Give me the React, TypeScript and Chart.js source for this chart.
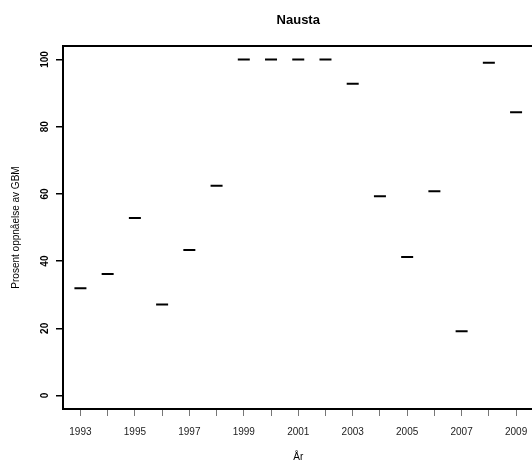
import React, { useEffect, useRef } from 'react';
import { Chart, registerables } from 'chart.js';

Chart.register(...registerables);

const chartTitle = 'Nausta';
const xAxisTitle = 'År';
const yAxisTitle = 'Prosent oppnåelse av GBM';

const years = [1993, 1994, 1995, 1996, 1997, 1998, 1999, 2000, 2001, 2002, 2003, 2004, 2005, 2006, 2007, 2008, 2009];
const values = [31.9, 36.2, 52.8, 27.1, 43.3, 62.4, 100, 100, 100, 100, 92.8, 59.3, 41.2, 60.8, 19.1, 99.0, 84.3];
const xTickLabels = ['1993', '1995', '1997', '1999', '2001', '2003', '2005', '2007', '2009'];
const yTickValues = [0, 20, 40, 60, 80, 100];

const FONT = "'Liberation Sans', Arial, Helvetica, sans-serif";

const boxPlugin = {
  id: 'rbox',
  afterDraw(chart: any) {
    const { ctx, chartArea } = chart;
    const { left, top, right, bottom } = chartArea;
    ctx.save();
    ctx.strokeStyle = '#000';
    ctx.lineWidth = 2;
    ctx.strokeRect(left, top, right - left, bottom - top);
    ctx.restore();
  },
};

export default function App() {
  const canvasRef = useRef<HTMLCanvasElement | null>(null);

  useEffect(() => {
    const canvas = canvasRef.current;
    if (!canvas) return;
    document.body.style.margin = '0';
    const chart = new Chart(canvas, {
      type: 'scatter',
      data: {
        datasets: [
          {
            data: years.map((x, i) => ({ x, y: values[i] })),
            pointStyle: 'line',
            pointRadius: 6,
            pointHoverRadius: 6,
            pointBorderWidth: 2,
            pointBorderColor: '#000',
            pointBackgroundColor: '#000',
            showLine: false,
          } as any,
        ],
      },
      options: {
        animation: false,
        responsive: false,
        devicePixelRatio: 1,
        events: [],
        layout: { padding: { left: 0, right: 26.5, top: 0, bottom: 0 } },
        plugins: {
          legend: { display: false },
          tooltip: { enabled: false },
          title: {
            display: true,
            text: chartTitle,
            fullSize: false,
            color: '#000',
            font: { family: FONT, size: 13, weight: 'bold', lineHeight: 1.2 },
            padding: { top: 12.2, bottom: 18.2 },
          },
        },
        scales: {
          x: {
            type: 'linear',
            min: 1992.36,
            max: 2009.64,
            border: { display: false },
            grid: {
              drawOnChartArea: false,
              drawTicks: true,
              tickLength: 7,
              tickColor: '#777',
              lineWidth: 1,
            },
            ticks: {
              stepSize: 1,
              includeBounds: false,
              autoSkip: false,
              maxRotation: 0,
              minRotation: 0,
              padding: 10,
              color: '#222',
              font: { family: FONT, size: 10, lineHeight: 1.2 },
              callback: (v: any) => (xTickLabels.includes(String(v)) ? String(v) : ''),
            },
            title: {
              display: true,
              text: xAxisTitle,
              color: '#000',
              font: { family: FONT, size: 10, lineHeight: 1 },
              padding: { top: 0, bottom: 0 },
            },
            afterFit: (s: any) => {
              s.height = 53;
            },
          },
          y: {
            type: 'linear',
            min: -4,
            max: 104,
            border: { display: false },
            grid: {
              drawOnChartArea: false,
              drawTicks: true,
              tickLength: 7,
              tickColor: '#000',
              lineWidth: 1.5,
            },
            ticks: {
              stepSize: 20,
              includeBounds: false,
              minRotation: 90,
              maxRotation: 90,
              crossAlign: 'center',
              padding: 2.65,
              color: '#000',
              font: { family: FONT, size: 10, weight: 'bold', lineHeight: 1.2 },
              callback: (v: any) => (yTickValues.includes(Number(v)) ? String(v) : ''),
            },
            title: {
              display: true,
              text: yAxisTitle,
              color: '#000',
              font: { family: FONT, size: 10, lineHeight: 1 },
              padding: { top: 11, bottom: 0 },
            },
            afterFit: (s: any) => {
              s.width = 63;
            },
          },
        },
      } as any,
      plugins: [boxPlugin],
    });
    return () => chart.destroy();
  }, []);

  return (
    <div
      style={{
        position: 'fixed',
        left: 0,
        top: 0,
        width: 532,
        height: 462,
        overflow: 'hidden',
        background: '#fff',
      }}
    >
      <canvas ref={canvasRef} width={560} height={462} style={{ display: 'block' }} />
    </div>
  );
}
